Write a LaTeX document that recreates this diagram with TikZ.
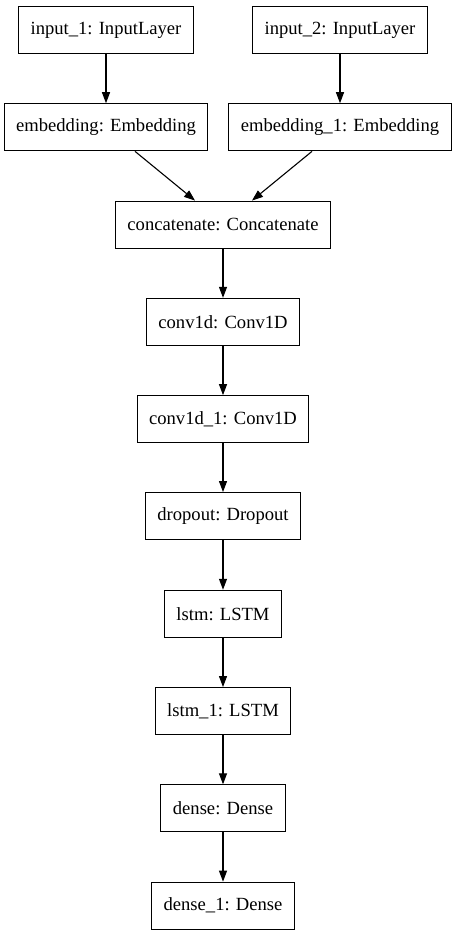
\documentclass[tikz,border=0pt]{standalone}
\usepackage{fontspec}
\setmainfont{Liberation Serif}
\usetikzlibrary{arrows.meta}
\begin{document}
\begin{tikzpicture}[x=1pt,y=-1pt,
  layer/.style={draw, line width=1.1pt, minimum height=47pt, inner xsep=12pt, inner ysep=0pt,
    font=\fontsize{18.6}{22}\selectfont},
  conn/.style={line width=1.1pt, -{Triangle[length=11pt,width=8pt]}}]
\useasboundingbox (0,0) rectangle (456,936);
\node[layer] (in1) at (106,30) {input\_1: InputLayer};
\node[layer] (in2) at (340,30) {input\_2: InputLayer};
\node[layer] (emb) at (106,127.3) {embedding: Embedding};
\node[layer] (emb1) at (340,127.3) {embedding\_1: Embedding};
\node[layer] (cat) at (223,224.6) {concatenate: Concatenate};
\node[layer] (conv) at (223,321.9) {conv1d: Conv1D};
\node[layer] (conv1) at (223,419.2) {conv1d\_1: Conv1D};
\node[layer] (drop) at (223,516.1) {dropout: Dropout};
\node[layer] (lstm) at (223,613.8) {lstm: LSTM};
\node[layer] (lstm1) at (223,711.1) {lstm\_1: LSTM};
\node[layer] (dense) at (223,808.4) {dense: Dense};
\node[layer] (dense1) at (223,905.7) {dense\_1: Dense};
\draw[conn] (in1) -- (emb);
\draw[conn] (in2) -- (emb1);
\draw[conn] ([xshift=29pt]emb.south) -- ([xshift=-28pt]cat.north);
\draw[conn] ([xshift=-28pt]emb1.south) -- ([xshift=29pt]cat.north);
\draw[conn] (cat) -- (conv);
\draw[conn] (conv) -- (conv1);
\draw[conn] (conv1) -- (drop);
\draw[conn] (drop) -- (lstm);
\draw[conn] (lstm) -- (lstm1);
\draw[conn] (lstm1) -- (dense);
\draw[conn] (dense) -- (dense1);
\end{tikzpicture}
\end{document}
